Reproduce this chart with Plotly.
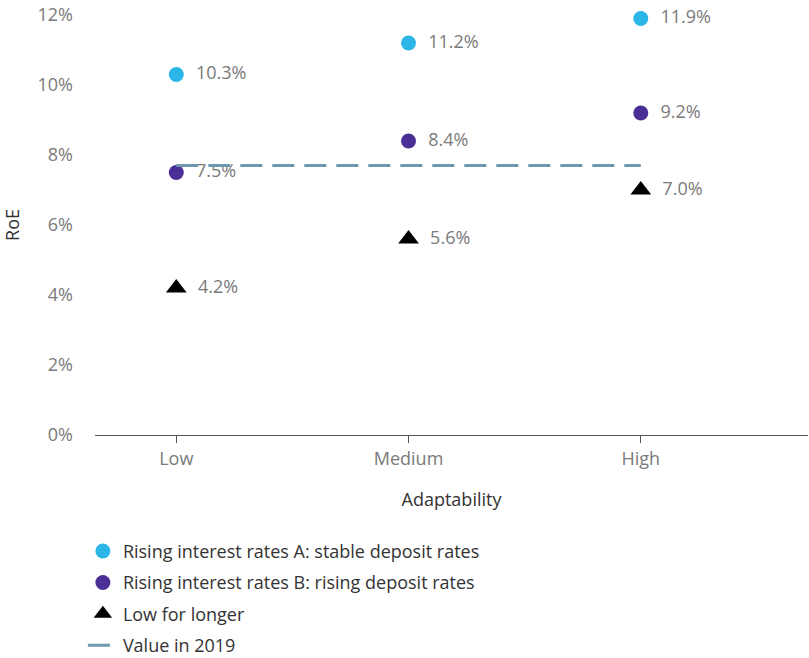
import plotly.graph_objects as go

categories = ["Low", "Medium", "High"]
scenario_a = [10.3, 11.2, 11.9]
scenario_b = [7.5, 8.4, 9.2]
low_for_longer = [4.2, 5.6, 7.0]
value_2019 = [7.7, 7.7, 7.7]
y_ticks = [0, 2, 4, 6, 8, 10, 12]
y_tick_labels = ["0%", "2%", "4%", "6%", "8%", "10%", "12%"]
names = ["Rising interest rates A: stable deposit rates",
         "Rising interest rates B: rising deposit rates",
         "Low for longer",
         "Value in 2019"]

FONT = "Open Sans"
FS = 18
LABEL_COLOR = "#7a7a7a"
TEXT_COLOR = "#333333"

def fmt(vals):
    return [f"  {v:.1f}%" for v in vals]

fig = go.Figure()
fig.add_trace(go.Scatter(
    x=categories, y=scenario_a, name=names[0], mode="markers+text",
    legendgroup="a", cliponaxis=False,
    marker=dict(symbol="circle", size=15, color="#2cb6e7"),
    text=fmt(scenario_a), textposition="middle right",
    textfont=dict(size=FS, color=LABEL_COLOR, family=FONT),
))
fig.add_trace(go.Scatter(
    x=categories, y=scenario_b, name=names[1], mode="markers+text",
    legendgroup="b", cliponaxis=False,
    marker=dict(symbol="circle", size=15, color="#4a2f96"),
    text=fmt(scenario_b), textposition="middle right",
    textfont=dict(size=FS, color=LABEL_COLOR, family=FONT),
))
fig.add_trace(go.Scatter(
    x=categories, y=low_for_longer, name=names[2], mode="markers+text",
    legendgroup="c", cliponaxis=False,
    marker=dict(symbol="triangle-up", size=18, color="#000000"),
    text=fmt(low_for_longer), textposition="middle right",
    textfont=dict(size=FS, color=LABEL_COLOR, family=FONT),
))
fig.add_trace(go.Scatter(
    x=categories, y=value_2019, name=names[3], mode="lines",
    legendgroup="d",
    line=dict(color="#6e98ae", width=3, dash="22px,10px"),
))

fig.update_layout(
    width=809, height=658,
    margin=dict(l=95, r=1, t=15, b=223, autoexpand=False),
    paper_bgcolor="white", plot_bgcolor="white",
    font=dict(family=FONT, size=FS, color=TEXT_COLOR),
    showlegend=True,
    legend=dict(
        x=-0.017, y=-0.233, xanchor="left", yanchor="top",
        font=dict(size=FS, color=TEXT_COLOR, family=FONT),
        itemwidth=30, tracegroupgap=5, traceorder="grouped",
    ),
    xaxis=dict(
        type="category", range=[-0.35, 2.72],
        showline=True, linecolor="#555555", linewidth=1,
        ticks="outside", ticklen=7, tickcolor="#555555",
        showgrid=False, zeroline=False,
        tickfont=dict(size=FS, color=LABEL_COLOR),
        title=dict(text="Adaptability", font=dict(size=FS, color=TEXT_COLOR), standoff=24),
    ),
    yaxis=dict(
        range=[0, 12], tickvals=y_ticks, ticktext=y_tick_labels,
        showline=False, showgrid=False, zeroline=False,
        tickfont=dict(size=FS, color=LABEL_COLOR),
        ticks="", ticklabelstandoff=21,
        title=dict(text="RoE", font=dict(size=FS, color=TEXT_COLOR), standoff=18),
    ),
)

fig.write_html("out.html")
